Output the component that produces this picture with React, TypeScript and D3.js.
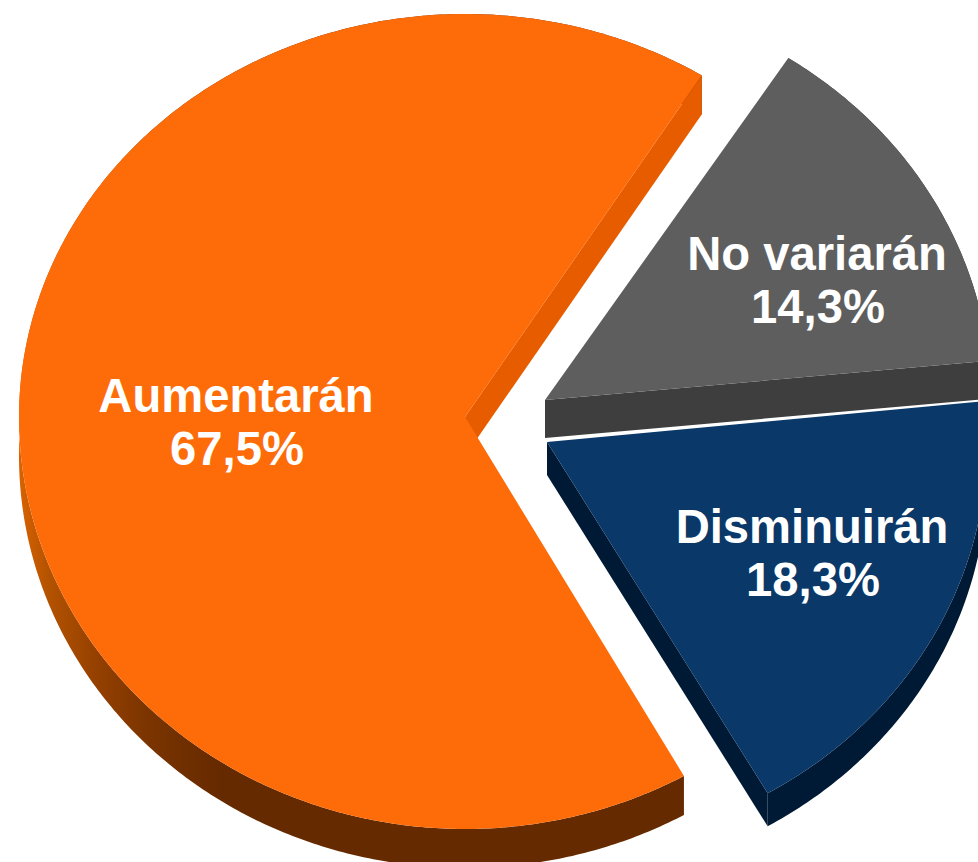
import React from 'react';
import * as d3 from 'd3';

const categories = ['Aumentarán', 'No variarán', 'Disminuirán'];
const values = [67.5, 14.3, 18.3];

const faceColors = ['#fe6c0a', '#5e5e5e', '#0a3868'];
const edgeColors = ['#e85c00', '#3e3e3e', '#001a35'];
const centers = [[465, 417], [545, 400], [547, 442]];
const depths = [39, 38, 33];
const radiiX = [446, 446, 440];
const radiiTop = [403, 408, 406];
const radiiBottom = [412, 408, 406];
// small per slice correction of the angles, the source pie is not quite true
const startTweak = [0.3, 0, -0.25];
const endTweak = [-1, 0, -0.4];
const labelPos = [[236, 412], [817, 270], [812, 543]];

const width = 978;
const height = 862;
const startAngle = (150.3 * Math.PI) / 180;
const rad = Math.PI / 180;

const fmt = d3.formatLocale({ decimal: ',', thousands: '.', grouping: [3], currency: ['', ''] }).format('.1f');

const arcs = d3.pie<number>().sort(null).startAngle(startAngle).endAngle(startAngle + 2 * Math.PI)(values);

const project = (a: number, i: number): [number, number] => {
  const u = Math.sin(a);
  const v = -Math.cos(a);
  return [centers[i][0] + radiiX[i] * u, centers[i][1] + (v < 0 ? radiiTop[i] : radiiBottom[i]) * v];
};

const line = d3.line();

const rim = (a0: number, a1: number, i: number) =>
  [...d3.range(a0, a1, 0.01), a1].map((a) => project(a, i));

const shift = (pts: [number, number][], d: number) =>
  pts.map(([x, y]) => [x, y + d] as [number, number]);

export default function App() {
  return (
    <svg
      width={width}
      height={height}
      viewBox={`0 0 ${width} ${height}`}
      style={{ position: 'absolute', left: 0, top: 0, display: 'block', background: '#fff' }}
    >
      <defs>
        <linearGradient id="orangeWall" gradientUnits="userSpaceOnUse" x1="19" y1="0" x2="220" y2="0">
          <stop offset="0" stopColor="#d96200" />
          <stop offset="0.15" stopColor="#b35200" />
          <stop offset="0.4" stopColor="#933f00" />
          <stop offset="0.65" stopColor="#7a3400" />
          <stop offset="1" stopColor="#662a00" />
        </linearGradient>
      </defs>
      {arcs.map((d, i) => {
        const c = centers[i] as [number, number];
        const depth = depths[i];
        const a0 = d.startAngle + startTweak[i] * rad;
        const a1 = d.endAngle + endTweak[i] * rad;
        const outer = rim(a0, a1, i);
        const tip = project(a1, i);
        const face = line([c, ...outer]) + 'Z';
        const wall = line([...outer, ...shift(outer, depth).reverse()]) + 'Z';
        const cutWall = line([c, tip, [tip[0], tip[1] + depth], [c[0], c[1] + depth]]) + 'Z';
        return (
          <g key={categories[i]}>
            <path d={wall} fill={i === 0 ? 'url(#orangeWall)' : edgeColors[i]} />
            <path d={cutWall} fill={edgeColors[i]} />
            <path d={face} fill={faceColors[i]} />
          </g>
        );
      })}
      {arcs.map((d, i) => (
        <text
          key={categories[i]}
          textAnchor="middle"
          fill="#fff"
          fontFamily="'Liberation Sans', Arial, sans-serif"
          fontWeight="bold"
          fontSize={47.2}
        >
          <tspan x={labelPos[i][0]} y={labelPos[i][1]}>{categories[i]}</tspan>
          <tspan x={labelPos[i][0] + 1} y={labelPos[i][1] + 53}>{fmt(d.data)}%</tspan>
        </text>
      ))}
    </svg>
  );
}
